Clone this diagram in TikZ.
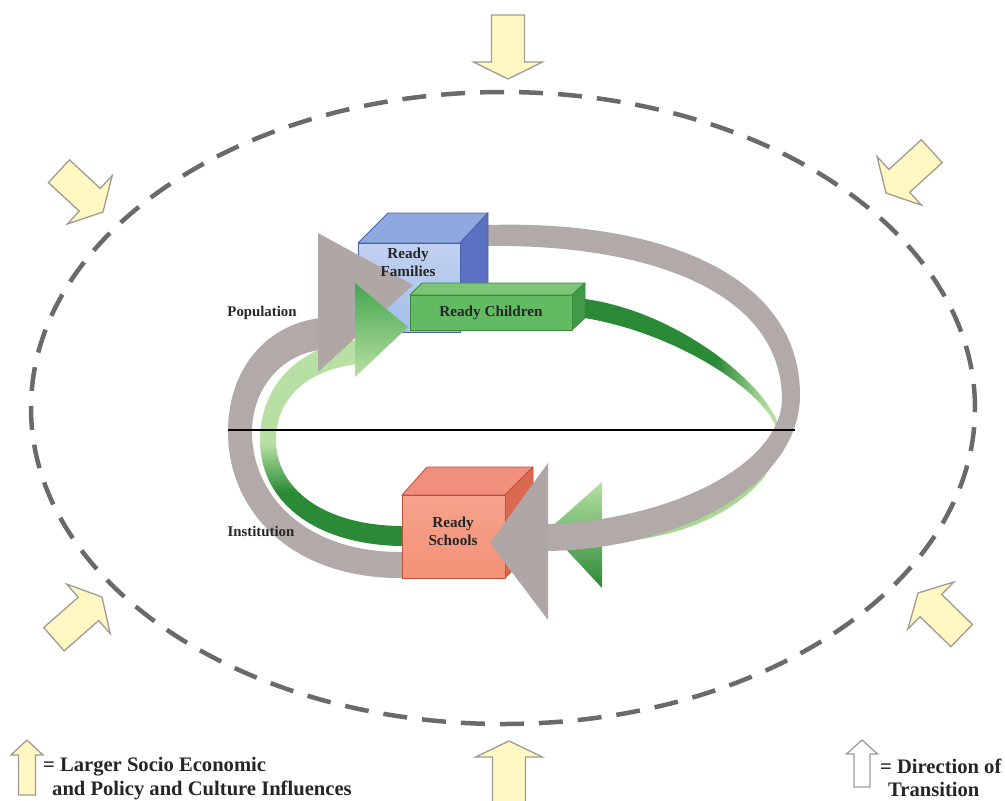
\documentclass[tikz,border=0pt]{standalone}
\usepackage{fontspec}
\setmainfont{Liberation Serif}
\definecolor{gdark}{HTML}{2A8A36}
\definecolor{gmid}{HTML}{45A64D}
\definecolor{glight}{HTML}{B8E0A4}
\definecolor{glight2}{HTML}{A8D894}
\definecolor{gband}{HTML}{B2AAA8}
\definecolor{garrow}{HTML}{AFA7A5}
\definecolor{yfill}{HTML}{FFF8C2}
\definecolor{yline}{HTML}{A09C94}
\definecolor{dashc}{HTML}{6A6A6A}
\definecolor{fbtop}{HTML}{8EA8E0}
\definecolor{fbside}{HTML}{5B72C2}
\definecolor{fbline}{HTML}{4A5FA8}
\definecolor{fbA}{HTML}{C2D1F1}
\definecolor{fbB}{HTML}{F3E8F3}
\definecolor{fbC}{HTML}{A3BFE9}
\definecolor{cbtop}{HTML}{7DC576}
\definecolor{cbside}{HTML}{3F9B47}
\definecolor{cbline}{HTML}{3A8A3A}
\definecolor{cbA}{HTML}{62BA62}
\definecolor{cbB}{HTML}{E2F5D8}
\definecolor{sbtop}{HTML}{F0907C}
\definecolor{sbside}{HTML}{D9694F}
\definecolor{sbline}{HTML}{C0503A}
\definecolor{sbA}{HTML}{F6A28C}
\definecolor{sbB}{HTML}{F9BC98}
\definecolor{sbC}{HTML}{F49277}
\pgfdeclarehorizontalshading{gshA}{100bp}{color(0bp)=(gdark); color(25bp)=(gdark); color(59bp)=(gdark); color(72bp)=(glight); color(100bp)=(glight)}
\pgfdeclareverticalshading{gshB}{100bp}{color(0bp)=(gdark); color(25bp)=(gdark); color(38bp)=(gdark); color(50bp)=(glight); color(100bp)=(glight)}
\newcommand\blockarr[8]{%
  \draw[#8, shift={(#1,#2)}, rotate=#3] (0,0) -- (-#5,#6) -- (-#5,#7) -- (-#4,#7) -- (-#4,-#7) -- (-#5,-#7) -- (-#5,-#6) -- cycle;}
\tikzset{
  yarr/.style={fill=yfill, draw=yline, line width=1.3pt, line join=miter},
  warr/.style={fill=white, draw=yline, line width=1.3pt, line join=miter},
  boxtext/.style={font=\bfseries\fontsize{15.2}{18}\selectfont, align=center, inner sep=0pt, text=black!85},
  sidetext/.style={font=\bfseries\fontsize{14.8}{16}\selectfont, inner sep=0pt, text=black!85},
  legtext/.style={font=\bfseries\fontsize{20.6}{24}\selectfont, inner sep=0pt, anchor=west, text=black!85}
}
\begin{document}
\begin{tikzpicture}[x=1pt,y=-1pt, line join=round]
\useasboundingbox (0,0) rectangle (1005,801);
\fill[white] (0,0) rectangle (1005,801);

% dashed boundary
\draw[dashc, line width=4.5pt, dash pattern=on 24pt off 15pt] (503,408) ellipse [x radius=472pt, y radius=316pt];

% gray band, left part
\fill[gband] (420,578) -- (400,578) .. controls (290,578) and (228,510) .. (228,432) .. controls (228,370) and (265,325) .. (320,318) -- (320,350) .. controls (280,355) and (252,390) .. (252,432) .. controls (252,495) and (305,552) .. (400,552) -- (420,552) -- cycle;
% green band, left part
\shade[shading=gshB] (430,546) -- (400,546) .. controls (312,544) and (260,500) .. (260,440) .. controls (260,385) and (300,345) .. (358,340) -- (358,364) .. controls (305,370) and (276,400) .. (276,440) .. controls (276,490) and (325,525) .. (400,526) -- (430,526) -- cycle;
% green band, right part
\shade[shading=gshA] (578,299) -- (585,299) .. controls (680,312) and (772,388) .. (781,432) -- (777,432) .. controls (772,398) and (685,335) .. (585,318) -- (578,318) -- cycle;
\fill[glight2] (781,430) .. controls (783,488) and (700,542) .. (602,542) -- (602,526) .. controls (690,524) and (776,482) .. (777,432) -- cycle;
% green arrowhead, bottom
\shade[top color=glight, bottom color=gdark] (602,482) -- (548,530) -- (602,588) -- cycle;
% gray band, right part
\fill[gband] (470,225) -- (488,225) .. controls (655,220) and (800,272) .. (800,395) .. controls (800,480) and (690,548) .. (548,551) -- (548,524) .. controls (670,520) and (780,465) .. (782,400) .. controls (782,290) and (645,244) .. (488,246) -- (470,246) -- cycle;

% horizontal line
\coordinate (hl) at (228,430);
\coordinate (hr) at (795,430);
\draw[black, line width=2pt] (hl) -- (hr);

% Ready Families box
\filldraw[fill=fbtop, draw=fbline, line width=0.8pt] (358,243) -- (388,213) -- (488,213) -- (460,243) -- cycle;
\filldraw[fill=fbside, draw=fbline, line width=0.8pt] (460,243) -- (488,213) -- (488,302) -- (460,332) -- cycle;
\shadedraw[top color=fbA, middle color=fbB, bottom color=fbC, draw=fbline, line width=0.8pt] (358,243) rectangle (460,332);

% gray arrowhead, top
\fill[garrow] (318,233) -- (413,285) -- (318,372) -- cycle;
\node[boxtext] (fam) at (408,262) {Ready\\Families};
% green arrowhead, top
\shade[top color=gmid, bottom color=glight] (355,283) -- (408,327) -- (355,377) -- cycle;

% Ready Children box
\filldraw[fill=cbtop, draw=cbline, line width=0.8pt] (410,295) -- (422,283) -- (585,283) -- (572,295) -- cycle;
\filldraw[fill=cbside, draw=cbline, line width=0.8pt] (572,295) -- (585,283) -- (585,318) -- (572,330) -- cycle;
\shadedraw[top color=cbA, middle color=cbB, bottom color=cbA, draw=cbline, line width=0.8pt] (410,295) rectangle (572,330);
\node[boxtext] (chi) at (491,313) {Ready Children};

% Ready Schools box
\filldraw[fill=sbtop, draw=sbline, line width=0.8pt] (402,495) -- (427,467) -- (533,467) -- (505,495) -- cycle;
\filldraw[fill=sbside, draw=sbline, line width=0.8pt] (505,495) -- (533,467) -- (533,550) -- (505,578) -- cycle;
\shadedraw[top color=sbA, middle color=sbB, bottom color=sbC, draw=sbline, line width=0.8pt] (402,495) rectangle (505,578);
\node[boxtext] (sch) at (453,531) {Ready\\Schools};

% gray arrowhead, bottom
\fill[garrow] (548,463) -- (490,543) -- (548,620) -- cycle;

% side labels
\node[sidetext] (pop) at (262,313) {Population};
\node[sidetext] (ins) at (261,531) {Institution};

% influence arrows
\blockarr{508}{79}{-90}{64}{17}{34.5}{16.5}{yarr}
\blockarr{886}{193}{222.4}{62}{18}{33}{15.5}{yarr}
\blockarr{103}{212}{-42.8}{60}{18}{33}{15.5}{yarr}
\blockarr{102}{597}{41.3}{64}{18}{33}{15.5}{yarr}
\blockarr{918}{593}{135.7}{61}{18}{33}{15.5}{yarr}
\blockarr{509}{741}{90}{80}{16}{33.5}{16.5}{yarr}

% legend
\blockarr{27}{740}{90}{55}{15}{16}{8.5}{yarr}
\node[legtext] (l1) at (43,767) {= Larger Socio Economic};
\node[legtext] (l2) at (52,790) {and Policy and Culture Influences};
\blockarr{862}{740}{90}{47}{14}{15.5}{8}{warr}
\node[legtext] (r1) at (880,766) {= Direction of};
\node[legtext] (r2) at (888,789) {Transition};
\end{tikzpicture}
\end{document}
